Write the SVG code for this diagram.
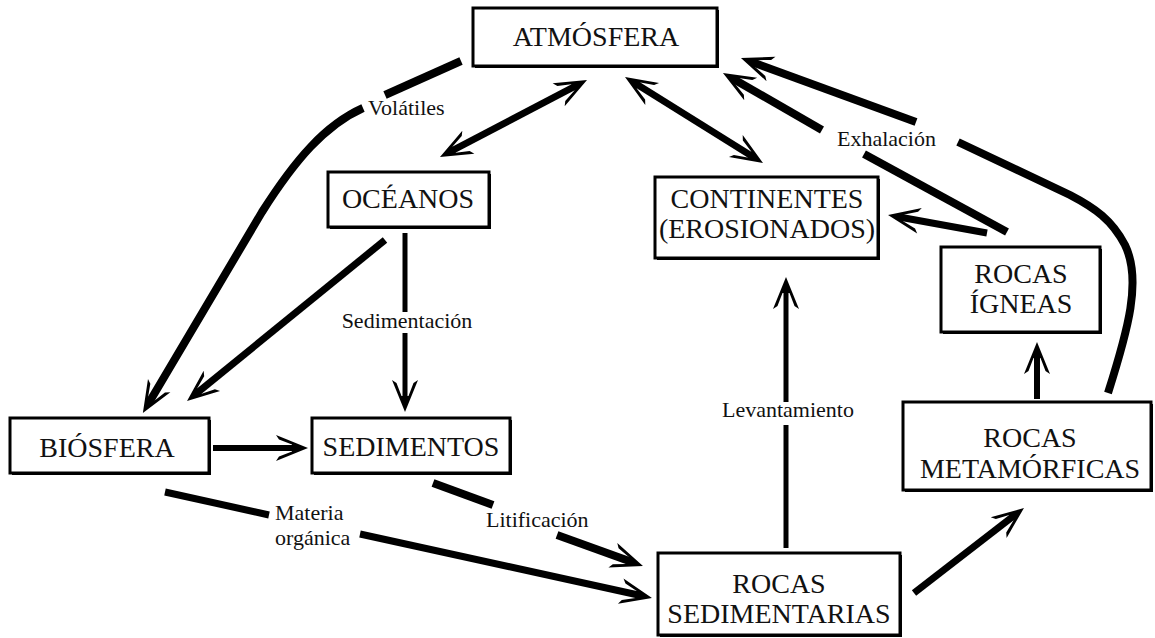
<svg xmlns="http://www.w3.org/2000/svg" width="1155" height="638" viewBox="0 0 1155 638">
<style>
.box{fill:#fff;stroke:#000;stroke-width:3}
.sh{fill:#000}
.bt{font-family:'Liberation Serif','DejaVu Serif','Times New Roman',serif;font-size:28px;fill:#111;text-anchor:middle}
.lb{font-family:'Liberation Serif','DejaVu Serif','Times New Roman',serif;font-size:22px;fill:#111}
.c{fill:none;stroke:#000;stroke-width:8;stroke-linecap:butt}
.c7{stroke-width:7}
.c6{stroke-width:6}
.c5{stroke-width:5}
</style>
<defs>
<marker id="ah" markerUnits="userSpaceOnUse" orient="auto-start-reverse" refX="0" refY="0" markerWidth="40" markerHeight="40" overflow="visible">
<polygon points="14,0 -18,-13 -15,-8.5 -2,-3.5 -2,3.5 -15,8.5 -18,13" fill="#000"/>
</marker>
</defs>
<rect width="1155" height="638" fill="#fff"/>

<g id="connectors">
<path class="c" d="M461 61 L385 95"/>
<path class="c" d="M363 108 C325 125 295 160 262 212 L150 401" marker-end="url(#ah)"/>
<path class="c c7" d="M452.4 150.5 L574.6 86.5" marker-start="url(#ah)" marker-end="url(#ah)"/>
<path class="c c7" d="M636.9 84.4 L751.1 155.6" marker-start="url(#ah)" marker-end="url(#ah)"/>
<path class="c c7" d="M385 240 L197.9 392.2" marker-end="url(#ah)"/>
<path class="c c5" d="M405 233 L405 312"/>
<path class="c c5" d="M405 333 L405 398" marker-end="url(#ah)"/>
<path class="c c6" d="M213 448 L294 448" marker-end="url(#ah)"/>
<path class="c c7" d="M165 492 L269 515"/>
<path class="c c7" d="M360 534 L638.3 595" marker-end="url(#ah)"/>
<path class="c" d="M433 483 L493 505"/>
<path class="c" d="M557 535 L629.8 561.3" marker-end="url(#ah)"/>
<path class="c c5" d="M786 548 L786 425"/>
<path class="c c5" d="M786 402 L786 291" marker-end="url(#ah)"/>
<path class="c c7" d="M914 593 L1012.9 516.6" marker-end="url(#ah)"/>
<path class="c c6" d="M1037 399 L1037 356" marker-end="url(#ah)"/>
<path class="c c7" d="M987 233 L901.8 217.5" marker-end="url(#ah)"/>
<path class="c" d="M1007 232 L864 154"/>
<path class="c" d="M822 130 L735.1 80" marker-end="url(#ah)"/>
<path class="c" d="M1108 393 C1128 330 1142 280 1125 245 C1112 220 1095 208 1070 195 L958 142"/>
<path class="c" d="M916 122 L754.1 62.8" marker-end="url(#ah)"/>
</g>

<g id="labels" font-family="'Liberation Serif','DejaVu Serif',serif">
<text class="lb" x="368" y="115">Volátiles</text>
<text class="lb" x="837" y="146">Exhalación</text>
<text class="lb" x="407" y="328" text-anchor="middle">Sedimentación</text>
<text class="lb" x="788" y="417" text-anchor="middle">Levantamiento</text>
<text class="lb" x="275" y="520">Materia</text>
<text class="lb" x="275" y="545">orgánica</text>
<text class="lb" x="486" y="527">Litificación</text>
</g>

<g id="atmosfera" font-family="'Liberation Serif','DejaVu Serif',serif">
<rect class="sh" x="475" y="10" width="244" height="58"/>
<rect class="box" x="473" y="8" width="244" height="58"/>
<text class="bt" x="596" y="46">ATMÓSFERA</text>
</g>
<g id="oceanos" font-family="'Liberation Serif','DejaVu Serif',serif">
<rect class="sh" x="330" y="174" width="161" height="55"/>
<rect class="box" x="328" y="172" width="161" height="55"/>
<text class="bt" x="408" y="208">OCÉANOS</text>
</g>
<g id="continentes" font-family="'Liberation Serif','DejaVu Serif',serif">
<rect class="sh" x="657" y="179" width="223" height="81"/>
<rect class="box" x="655" y="177" width="223" height="81"/>
<text class="bt" x="767" y="208">CONTINENTES</text>
<text class="bt" x="767" y="238">(EROSIONADOS)</text>
</g>
<g id="igneas" font-family="'Liberation Serif','DejaVu Serif',serif">
<rect class="sh" x="943" y="249" width="159" height="85"/>
<rect class="box" x="941" y="247" width="159" height="85"/>
<text class="bt" x="1021" y="283">ROCAS</text>
<text class="bt" x="1021" y="313">ÍGNEAS</text>
</g>
<g id="biosfera" font-family="'Liberation Serif','DejaVu Serif',serif">
<rect class="sh" x="12" y="420" width="199" height="55"/>
<rect class="box" x="10" y="418" width="199" height="55"/>
<text class="bt" x="107" y="457">BIÓSFERA</text>
</g>
<g id="sedimentos" font-family="'Liberation Serif','DejaVu Serif',serif">
<rect class="sh" x="314" y="420" width="198" height="55"/>
<rect class="box" x="312" y="418" width="198" height="55"/>
<text class="bt" x="411" y="456">SEDIMENTOS</text>
</g>
<g id="metamorficas" font-family="'Liberation Serif','DejaVu Serif',serif">
<rect class="sh" x="905" y="404" width="248" height="88"/>
<rect class="box" x="903" y="402" width="248" height="88"/>
<text class="bt" x="1030" y="447">ROCAS</text>
<text class="bt" x="1030" y="478">METAMÓRFICAS</text>
</g>
<g id="sedimentarias" font-family="'Liberation Serif','DejaVu Serif',serif">
<rect class="sh" x="660" y="555" width="242" height="82"/>
<rect class="box" x="658" y="553" width="242" height="82"/>
<text class="bt" x="779" y="593">ROCAS</text>
<text class="bt" x="779" y="623">SEDIMENTARIAS</text>
</g>
</svg>
